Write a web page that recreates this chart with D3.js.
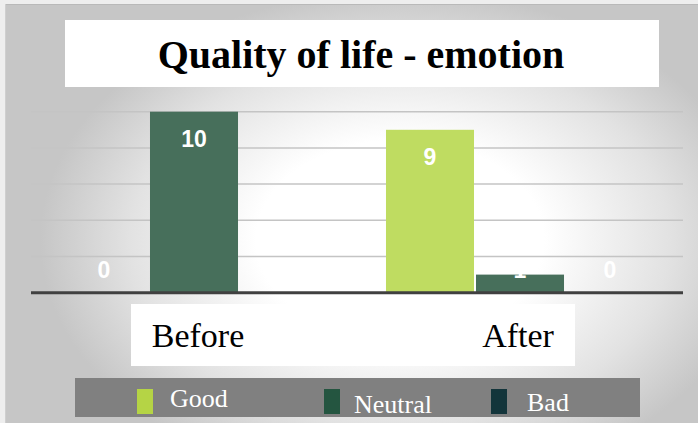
<!DOCTYPE html>
<html><head><meta charset="utf-8">
<script src="https://cdn.jsdelivr.net/npm/d3@7"></script>
<style>html,body{margin:0;padding:0;background:#f2f2f2;}svg{display:block;}</style>
</head><body>
<svg id="chart" width="698" height="423"></svg>
<script>
const categories = ["Before", "After"];
const seriesNames = ["Good", "Neutral", "Bad"];
const goodValues = [0, 9];
const neutralValues = [10, 1];
const badValues = [0, 0];
const yTicks = [2, 4, 6, 8, 10];
const titleText = "Quality of life - emotion";

const barColors = {Good: "#bfdc61", Neutral: "#476f5b", Bad: "#15393d"};
const legendColors = {Good: "#b5d445", Neutral: "#245540", Bad: "#13353b"};

const svg = d3.select("#chart");
const W = 698, H = 423;

// background
const defs = svg.append("defs");
const rg = defs.append("radialGradient").attr("id", "bg")
  .attr("gradientUnits", "userSpaceOnUse")
  .attr("cx", 0).attr("cy", 0).attr("r", 1)
  .attr("gradientTransform", "translate(400,240) scale(360,250)");
rg.append("stop").attr("offset", 0).attr("stop-color", "#ffffff");
rg.append("stop").attr("offset", 0.4).attr("stop-color", "#ffffff");
rg.append("stop").attr("offset", 0.75).attr("stop-color", "#e2e2e2");
rg.append("stop").attr("offset", 1).attr("stop-color", "#c6c6c6");
svg.append("rect").attr("x", 0).attr("y", 0).attr("width", W).attr("height", H).attr("fill", "#eeeeee");
svg.append("rect").attr("x", 5).attr("y", 4).attr("width", W - 5).attr("height", H - 4).attr("fill", "url(#bg)");
svg.append("line").attr("x1", 5).attr("x2", W).attr("y1", 4.5).attr("y2", 4.5).attr("stroke", "#b9b9b9").attr("stroke-width", 1);
svg.append("line").attr("x1", 5.5).attr("x2", 5.5).attr("y1", 4).attr("y2", H).attr("stroke", "#cfcfcf").attr("stroke-width", 1);

// title
svg.append("rect").attr("x", 65).attr("y", 20).attr("width", 594).attr("height", 67).attr("fill", "#fff");
svg.append("text").attr("x", 361).attr("y", 68).attr("text-anchor", "middle")
  .attr("font-family", "'Liberation Serif','Times New Roman',serif").attr("font-weight", "bold")
  .attr("font-size", 40).attr("fill", "#000").text(titleText);

// scales
const x0 = d3.scaleBand().domain(categories).range([31, 683]).paddingInner(0).paddingOuter(0);
const x1 = d3.scaleBand().domain(seriesNames).range([0, x0.bandwidth()]).paddingInner(0.022).paddingOuter(0.322);
const y = d3.scaleLinear().domain([0, 10]).range([292.7, 111.7]);

// gridlines
svg.append("g").selectAll("line").data(yTicks).join("line")
  .attr("x1", 31).attr("x2", 683).attr("y1", d => y(d)).attr("y2", d => y(d))
  .attr("stroke", "#c4c4c4").attr("stroke-width", 1.5);

const data = [];
categories.forEach((c, i) => {
  data.push({cat: c, s: "Good", v: goodValues[i]});
  data.push({cat: c, s: "Neutral", v: neutralValues[i]});
  data.push({cat: c, s: "Bad", v: badValues[i]});
});

svg.append("g").selectAll("rect").data(data).join("rect")
  .attr("x", d => x0(d.cat) + x1(d.s)).attr("width", x1.bandwidth())
  .attr("y", d => y(d.v)).attr("height", d => y(0) - y(d.v))
  .attr("fill", d => barColors[d.s]);

// baseline
svg.append("line").attr("x1", 31).attr("x2", 683).attr("y1", y(0)).attr("y2", y(0))
  .attr("stroke", "#404040").attr("stroke-width", 3);

// labels
svg.append("g").selectAll("text").data(data).join("text")
  .attr("x", d => x0(d.cat) + x1(d.s) + x1.bandwidth() / 2)
  .attr("y", d => Math.min(y(d.v) + 35, y(0) - 15))
  .attr("text-anchor", "middle")
  .attr("font-family", "'Liberation Sans',Arial,sans-serif").attr("font-weight", "bold")
  .attr("font-size", 23).attr("fill", "#ffffff")
  .text(d => d.v);

// category axis labels box
svg.append("rect").attr("x", 131).attr("y", 304).attr("width", 444).attr("height", 62).attr("fill", "#fff");
svg.append("g").selectAll("text").data(categories).join("text")
  .attr("x", (d, i) => x0(d) + x0.bandwidth() / 2 + (i === 0 ? 4 : -2))
  .attr("y", 347).attr("text-anchor", "middle")
  .attr("font-family", "'Liberation Serif','Times New Roman',serif")
  .attr("font-size", 34).attr("fill", "#000").text(d => d);

// legend
svg.append("rect").attr("x", 75).attr("y", 378).attr("width", 565).attr("height", 39).attr("fill", "#808080");
const legendPos = [
  {s: "Good", sx: 137, tx: 170, ty: 407},
  {s: "Neutral", sx: 324, tx: 354, ty: 413},
  {s: "Bad", sx: 491, tx: 527, ty: 411}
];
const lg = svg.append("g").selectAll("g").data(legendPos).join("g");
lg.append("rect").attr("x", d => d.sx).attr("y", 389).attr("width", 16).attr("height", 25)
  .attr("fill", d => legendColors[d.s]);
lg.append("text").attr("x", d => d.tx).attr("y", d => d.ty)
  .attr("font-family", "'Liberation Serif','Times New Roman',serif")
  .attr("font-size", 26).attr("fill", "#fff").text(d => d.s);
</script>
</body></html>
